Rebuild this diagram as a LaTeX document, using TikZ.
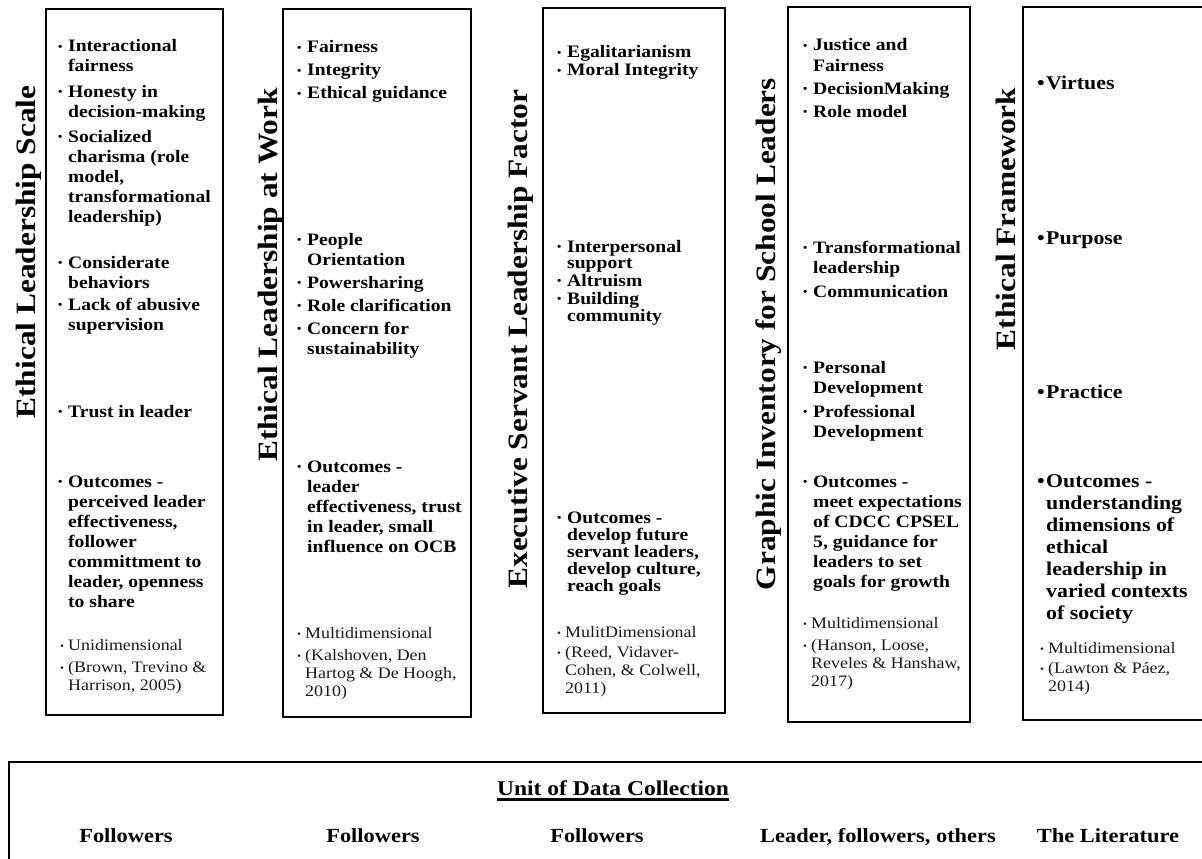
\documentclass[tikz,border=0pt]{standalone}
\usepackage{fontspec}
\setmainfont[FakeStretch=1.12]{Liberation Serif}
\newcommand{\bu}{\makebox[10pt][l]{\raisebox{1.5pt}{\fontsize{11}{11}\selectfont\textbullet}}}
\newcommand{\hi}{\hspace*{10pt}}
\newcommand{\sbu}{\makebox[8pt][l]{\raisebox{1pt}{\fontsize{10}{10}\selectfont\textbullet}}}
\newcommand{\shi}{\hspace*{8pt}}
\newcommand{\vbu}{\makebox[9pt][l]{\textbullet}}
\newcommand{\vhi}{\hspace*{9pt}}
\newcommand{\tb}[1]{\begin{tabular}[t]{@{}l@{}}#1\end{tabular}}
\begin{document}
\begin{tikzpicture}[x=1pt,y=-1pt,
  box/.style={draw=black,line width=1.6pt},
  item/.style={anchor=base west,inner sep=0pt,font=\fontsize{17.5}{20}\selectfont\bfseries},
  itemc/.style={item,font=\fontsize{17.5}{16.5}\selectfont\bfseries},
  itemv/.style={item,font=\fontsize{19.5}{22}\selectfont\bfseries},
  small/.style={anchor=base west,inner sep=0pt,font=\fontsize{16}{18}\selectfont,text=black!90},
  ttl/.style={rotate=90,anchor=base,inner sep=0pt,font=\fontsize{28}{30}\selectfont\bfseries},
  unit/.style={anchor=base,inner sep=0pt,font=\fontsize{20}{22}\selectfont\bfseries}]
\useasboundingbox (0,0) rectangle (1202,859);
\clip (0,0) rectangle (1202,859);
\fill[white] (0,0) rectangle (1202,859);
% boxes
\draw[box] (46,9) rectangle (223,715);
\draw[box] (283,9) rectangle (471,717);
\draw[box] (543,8) rectangle (725,713);
\draw[box] (788,7) rectangle (970,722);
\draw[box] (1023,7) rectangle (1215,720);
\draw[box] (9,762) rectangle (1215,880);
% titles
\node[ttl] (t1) at (35,252) {Ethical Leadership Scale};
\node[ttl] (t2) at (277,275) {Ethical Leadership at Work};
\node[ttl] (t3) at (527,339) {Executive Servant Leadership Factor};
\node[ttl] (t4) at (775,334) {Graphic Inventory for School Leaders};
\node[ttl] (t5) at (1015,219) {Ethical Framework};
% box 1
\node[item] (a1) at (58,52) {\tb{\bu Interactional\\\hi fairness}};
\node[item] (a2) at (58,97) {\tb{\bu Honesty in\\\hi decision-making}};
\node[item] (a3) at (58,142) {\tb{\bu Socialized\\\hi charisma (role\\\hi model,\\\hi transformational\\\hi leadership)}};
\node[item] (a4) at (58,268) {\tb{\bu Considerate\\\hi behaviors}};
\node[item] (a5) at (58,310) {\tb{\bu Lack of abusive\\\hi supervision}};
\node[item] (a6) at (58,417) {\tb{\bu Trust in leader}};
\node[item] (a7) at (58,487) {\tb{\bu Outcomes -\\\hi perceived leader\\\hi effectiveness,\\\hi follower\\\hi committment to\\\hi leader, openness\\\hi to share}};
\node[small] (a8) at (60,650) {\tb{\sbu Unidimensional}};
\node[small] (a9) at (60,672) {\tb{\sbu (Brown, Trevino \&\\\shi Harrison, 2005)}};
% box 2
\node[item] (b1) at (297,53) {\tb{\bu Fairness}};
\node[item] (b2) at (297,76) {\tb{\bu Integrity}};
\node[item] (b3) at (297,99) {\tb{\bu Ethical guidance}};
\node[item] (b4) at (297,245) {\tb{\bu People\\\hi Orientation}};
\node[item] (b5) at (297,288) {\tb{\bu Powersharing}};
\node[item] (b6) at (297,311) {\tb{\bu Role clarification}};
\node[item] (b7) at (297,334) {\tb{\bu Concern for\\\hi sustainability}};
\node[item] (b8) at (297,472) {\tb{\bu Outcomes -\\\hi leader\\\hi effectiveness, trust\\\hi in leader, small\\\hi influence on OCB}};
\node[small] (b9) at (297,638) {\tb{\sbu Multidimensional}};
\node[small] (b10) at (297,660) {\tb{\sbu (Kalshoven, Den\\\shi Hartog \& De Hoogh,\\\shi 2010)}};
% box 3
\node[itemc] (c1) at (557,58) {\tb{\bu Egalitarianism}};
\node[itemc] (c2) at (557,76) {\tb{\bu Moral Integrity}};
\node[itemc] (c3) at (557,252) {\tb{\bu Interpersonal\\\hi support}};
\node[itemc] (c4) at (557,286) {\tb{\bu Altruism}};
\node[itemc] (c5) at (557,304) {\tb{\bu Building\\\hi community}};
\node[itemc] (c6) at (557,523) {\tb{\bu Outcomes -\\\hi develop future\\\hi servant leaders,\\\hi develop culture,\\\hi reach goals}};
\node[small] (c7) at (557,637) {\tb{\sbu MulitDimensional}};
\node[small] (c8) at (557,657) {\tb{\sbu (Reed, Vidaver-\\\shi Cohen, \& Colwell,\\\shi 2011)}};
% box 4
\node[item] (d1) at (803,51) {\tb{\bu Justice and\\\hi Fairness}};
\node[item] (d2) at (803,94) {\tb{\bu DecisionMaking}};
\node[item] (d3) at (803,117) {\tb{\bu Role model}};
\node[item] (d4) at (803,253) {\tb{\bu Transformational\\\hi leadership}};
\node[item] (d5) at (803,297) {\tb{\bu Communication}};
\node[item] (d6) at (803,373) {\tb{\bu Personal\\\hi Development}};
\node[item] (d7) at (803,417) {\tb{\bu Professional\\\hi Development}};
\node[item] (d8) at (803,487) {\tb{\bu Outcomes -\\\hi meet expectations\\\hi of CDCC CPSEL\\\hi 5, guidance for\\\hi leaders to set\\\hi goals for growth}};
\node[small] (d9) at (803,628) {\tb{\sbu Multidimensional}};
\node[small] (d10) at (803,650) {\tb{\sbu (Hanson, Loose,\\\shi Reveles \& Hanshaw,\\\shi 2017)}};
% box 5
\node[itemv] (e1) at (1037,89) {\tb{\vbu Virtues}};
\node[itemv] (e2) at (1037,244) {\tb{\vbu Purpose}};
\node[itemv] (e3) at (1037,398) {\tb{\vbu Practice}};
\node[itemv] (e4) at (1037,487) {\tb{\vbu Outcomes -\\\vhi understanding\\\vhi dimensions of\\\vhi ethical\\\vhi leadership in\\\vhi varied contexts\\\vhi of society}};
\node[small] (e5) at (1040,653) {\tb{\sbu Multidimensional}};
\node[small] (e6) at (1040,673) {\tb{\sbu (Lawton \& Páez,\\\shi 2014)}};
% bottom
\node[unit,font=\fontsize{21}{23}\selectfont\bfseries] (u0) at (613,795) {Unit of Data Collection};
\draw[line width=2.2pt] ([yshift=-4.5pt]u0.base west) -- ([yshift=-4.5pt]u0.base east);
\node[unit] (u1) at (126,842) {Followers};
\node[unit] (u2) at (373,842) {Followers};
\node[unit] (u3) at (597,842) {Followers};
\node[unit] (u4) at (878,842) {Leader, followers, others};
\node[unit] (u5) at (1108,842) {The Literature};
\end{tikzpicture}
\end{document}
